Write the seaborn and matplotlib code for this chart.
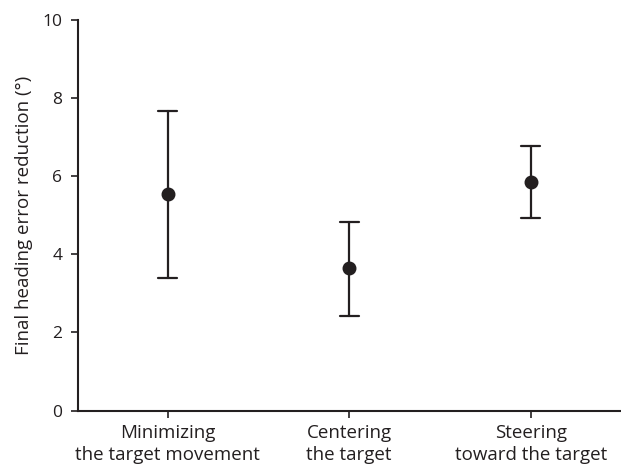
import numpy as np
import pandas as pd
import seaborn as sns
from matplotlib import pyplot as plt

# Values
conditions = [
    "Minimizing\nthe target movement",
    "Centering\nthe target",
    "Steering\ntoward the target",
]
means = [5.55, 3.64, 5.86]
lower = [3.40, 2.43, 4.93]
upper = [7.67, 4.84, 6.78]
y_ticks = [0, 2, 4, 6, 8, 10]

INK = "#231f20"


def build_frame() -> pd.DataFrame:
    # one row each for lower bound, centre and upper bound; the median gives
    # the centre and min/max give the bar ends
    rows = []
    for cond, lo, mid, hi in zip(conditions, lower, means, upper):
        for v in (lo, mid, hi):
            rows.append({"condition": cond, "value": v})
    return pd.DataFrame(rows)


def main() -> None:
    sns.set_style("ticks")
    plt.rcParams["font.family"] = ["Open Sans", "DejaVu Sans"]

    df = build_frame()
    fig = plt.figure(figsize=(6.21, 4.66), dpi=100)
    ax = fig.add_axes([0.125, 0.119, 0.873, 0.838])

    sns.pointplot(
        data=df,
        x="condition",
        y="value",
        order=conditions,
        estimator="median",
        errorbar=lambda v: (v.min(), v.max()),
        linestyle="none",
        color=INK,
        markersize=8,
        capsize=0.105,
        err_kws={"linewidth": 1.6},
        ax=ax,
    )

    ax.set_xlim(-0.495, 2.49)
    ax.set_ylim(0, 10)
    ax.set_yticks(y_ticks)
    ax.set_xlabel("")
    ax.set_ylabel("Final heading error reduction (°)", fontsize=13.5, color=INK, labelpad=7)
    ax.tick_params(axis="y", labelsize=12.5, colors=INK, length=5, width=1.2, pad=6)
    ax.tick_params(axis="x", labelsize=13.5, colors=INK, length=5, width=1.2, pad=5)
    for lbl in ax.get_xticklabels():
        lbl.set_linespacing(1.25)

    for side in ("top", "right"):
        ax.spines[side].set_visible(False)
    for side in ("left", "bottom"):
        ax.spines[side].set_color(INK)
        ax.spines[side].set_linewidth(1.5)

    fig.savefig("out.png", dpi=100)
    plt.close(fig)


if __name__ == "__main__":
    main()
